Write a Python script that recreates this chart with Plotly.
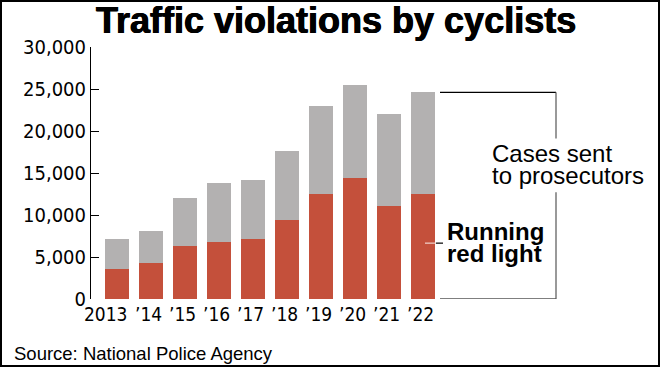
import plotly.graph_objects as go

# ---- data ----
years = ["2013", "’14", "’15", "’16", "’17", "’18", "’19", "’20", "’21", "’22"]
cases_sent = [7180, 8100, 12020, 13850, 14130, 17580, 22980, 25510, 21990, 24600]
red_light = [3610, 4250, 6350, 6790, 7180, 9400, 12500, 14400, 11070, 12500]
y_ticks = [0, 5000, 10000, 15000, 20000, 25000, 30000]
y_tick_text = ["0", "5,000", "10,000", "15,000", "20,000", "25,000", "30,000"]

other_cases = [t - r for t, r in zip(cases_sent, red_light)]

W, H = 660, 367
def X(px):
    return px / W
def Y(py):
    return 1 - py / H

RED = "#c4503b"
GRAY = "#b3b1b1"
NARROW = "Noto Sans Condensed, DejaVu Sans Condensed, sans-serif"
SANS = "Liberation Sans, Arial, sans-serif"

fig = go.Figure()
fig.add_trace(go.Bar(x=years, y=red_light, marker=dict(color=RED, line=dict(width=0)),
                     name="Running red light", hoverinfo="skip"))
fig.add_trace(go.Bar(x=years, y=other_cases, marker=dict(color=GRAY, line=dict(width=0)),
                     name="Cases sent to prosecutors", hoverinfo="skip"))

fig.update_layout(
    width=W, height=H, autosize=False,
    margin=dict(l=0, r=0, t=0, b=0, autoexpand=False),
    paper_bgcolor="white", plot_bgcolor="white",
    barmode="stack", bargap=0.28, showlegend=False,
    xaxis=dict(type="category", domain=[X(100), X(440)], range=[-0.5, 9.5],
               showline=False, showgrid=False, zeroline=False, ticks="",
               showticklabels=False, automargin=False, anchor="y"),
    yaxis=dict(domain=[Y(299), Y(47)], range=[0, 30000], anchor="free", position=X(90),
               showline=True, linecolor="black", linewidth=1,
               showgrid=False, zeroline=False, automargin=False,
               ticks="inside", ticklen=8, tickcolor="black", tickwidth=1,
               tickvals=y_ticks, ticktext=y_tick_text,
               tickfont=dict(family=NARROW, size=20, color="black")),
    font=dict(family=SANS, color="black"),
)

# X category labels, right-aligned to each bar's right edge (x given as category index)
for i, yr in enumerate(years):
    fig.add_annotation(text=yr, xref="x", yref="paper", x=i, y=Y(314),
                       xanchor="right", yanchor="middle", xshift=13, showarrow=False,
                       font=dict(family=NARROW, size=19, color="black"))

# Title
fig.add_annotation(text="<b>Traffic violations by cyclists</b>", xref="paper", yref="paper",
                   x=X(336), y=Y(21), xanchor="center", yanchor="middle", showarrow=False,
                   font=dict(family=SANS, size=36, color="black",
                             shadow="0.5px 0 0 black, -0.5px 0 0 black"))
# Source
fig.add_annotation(text="Source: National Police Agency", xref="paper", yref="paper",
                   x=X(12), y=Y(353), xanchor="left", yanchor="middle", showarrow=False,
                   font=dict(family=SANS, size=18.5, color="black"))
# Labels
for txt, py in [("Cases sent", 153), ("to prosecutors", 175)]:
    fig.add_annotation(text=txt, xref="paper", yref="paper", x=X(490), y=Y(py),
                       xanchor="left", yanchor="middle", showarrow=False,
                       font=dict(family=SANS, size=24, color="black"))
for txt, py in [("<b>Running</b>", 231), ("<b>red light</b>", 253)]:
    fig.add_annotation(text=txt, xref="paper", yref="paper", x=X(445), y=Y(py),
                       xanchor="left", yanchor="middle", showarrow=False,
                       font=dict(family=SANS, size=24, color="black"))

# Bracket for "cases sent"
last_total = cases_sent[-1]
line_k = dict(color="black", width=1.2)
fig.add_shape(type="line", xref="paper", yref="y", x0=X(440), x1=X(556), y0=last_total, y1=last_total, line=line_k)
fig.add_shape(type="line", xref="paper", yref="y", x0=X(440), x1=X(556), y0=0, y1=0, line=line_k)
gap_top_val, gap_bot_val = 19100, 12700
line_g = dict(color="#555555", width=1.2)
fig.add_shape(type="line", xref="paper", yref="y", x0=X(556), x1=X(556), y0=gap_top_val, y1=last_total, line=line_g)
fig.add_shape(type="line", xref="paper", yref="y", x0=X(556), x1=X(556), y0=0, y1=gap_bot_val, line=line_g)

# Pointer for "running red light"
ptr_val = 6650
fig.add_shape(type="line", xref="paper", yref="y", x0=X(425), x1=X(436), y0=ptr_val, y1=ptr_val,
              line=dict(color="#f2d6cf", width=1.2))
fig.add_shape(type="line", xref="paper", yref="y", x0=X(436), x1=X(443), y0=ptr_val, y1=ptr_val,
              line=dict(color="black", width=1.2))

# Outer frame
fig.add_shape(type="rect", xref="paper", yref="paper", x0=X(1), x1=X(659), y0=Y(366), y1=Y(1),
              line=dict(color="black", width=2), fillcolor="rgba(0,0,0,0)")

fig.write_html("out.html")
